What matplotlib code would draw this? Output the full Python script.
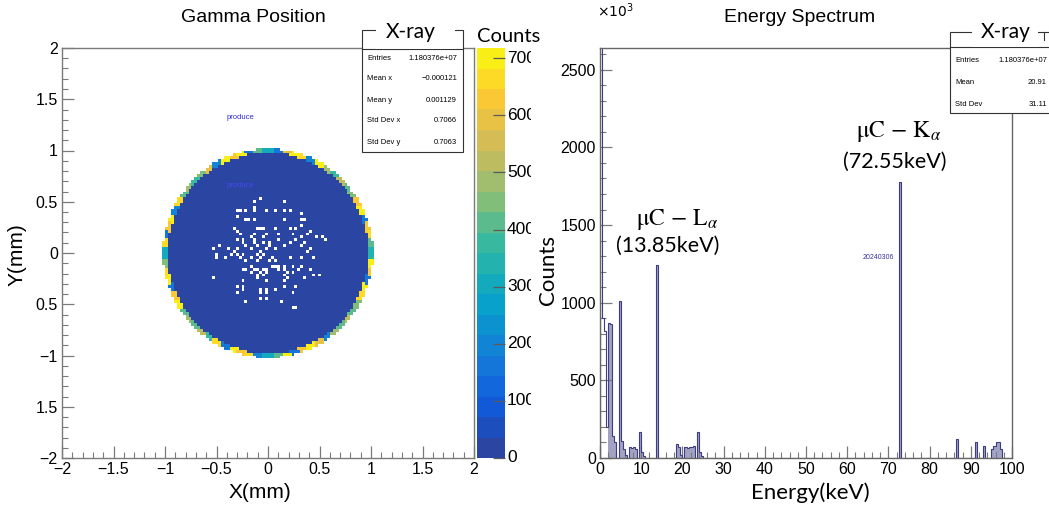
import numpy as np
import matplotlib
matplotlib.use("Agg")
import matplotlib.pyplot as plt
from matplotlib.colors import ListedColormap, BoundaryNorm, LinearSegmentedColormap
from matplotlib.patches import Rectangle
from matplotlib.lines import Line2D
from matplotlib.transforms import Bbox, TransformedBbox, blended_transform_factory
from matplotlib.ticker import MultipleLocator, FixedLocator, FixedFormatter

# ------------------------------------------------------------------ data
# 2D "Gamma Position" histogram (mm)
pos_range = (-2.0, 2.0)
pos_nbins = 140
disk_radius_mm = 1.02
rim_width_mm = 0.045
interior_count = 20
# rim bin contents, every 5 degrees starting at +x going counter-clockwise
rim_counts = [330, 420, 680, 620, 150, 700, 640, 450, 400, 520, 380, 470,
              690, 180, 650, 710, 600, 160, 300, 420, 170, 690, 640, 700,
              200, 610, 460, 380, 500, 420, 670, 190, 700, 630, 150, 680,
              320, 440, 650, 700, 160, 620, 690, 400, 480, 430, 510, 390,
              650, 170, 700, 620, 680, 200, 310, 430, 690, 150, 640, 700,
              610, 180, 470, 410, 520, 400, 450, 660, 700, 170, 640, 690]
# empty (white) bins inside the disk, by row
empty_rows_y = [0.54, 0.51, 0.45, 0.41, 0.38, 0.35, 0.32, 0.28, 0.25, 0.22,
                0.19, 0.16, 0.13, 0.09, 0.06, 0.04, 0.01, -0.02, -0.05, -0.08,
                -0.12, -0.15, -0.18, -0.21, -0.25, -0.28, -0.33, -0.36, -0.39,
                -0.43, -0.48, -0.52, -0.54]
empty_rows_x = [
    [-0.06],
    [-0.14, 0.17],
    [-0.14],
    [-0.30, -0.27, -0.21, -0.13, 0.00, 0.08, 0.17, 0.20],
    [0.33],
    [-0.30],
    [-0.22, -0.19, -0.13, 0.17, 0.34, 0.36],
    [0.33],
    [-0.34, -0.11, -0.08, -0.05, 0.07, 0.20, 0.28],
    [-0.29, 0.42],
    [-0.27, -0.14, 0.00, 0.10, 0.25, 0.38],
    [-0.17, -0.05, 0.33, 0.47, 0.54],
    [-0.29, -0.24, -0.14, 0.10, 0.26, 0.57],
    [-0.24, -0.13, -0.03, 0.02, 0.20, 0.36],
    [-0.47, -0.22, -0.09, 0.02, 0.17, 0.34],
    [-0.53, -0.40, -0.30, -0.17, -0.01, 0.08, 0.42],
    [-0.34, -0.08, 0.38],
    [-0.50, -0.35, -0.30, -0.24, -0.11, -0.03],
    [-0.50, -0.42, -0.27, -0.17, -0.08, 0.04, 0.21, 0.34, 0.44],
    [-0.22, -0.11, 0.02, 0.08],
    [-0.17, 0.04, 0.07, 0.10, 0.17, 0.25, 0.33],
    [-0.24, -0.21, -0.13, -0.09, -0.03, 0.00, 0.10, 0.15, 0.29, 0.42],
    [-0.17, -0.08, 0.00, 0.18, 0.25],
    [-0.11, -0.03, 0.17, 0.45, 0.49],
    [-0.53, -0.09, 0.18, 0.36],
    [-0.24, 0.00, 0.17],
    [-0.30, -0.24, 0.17, 0.26],
    [-0.24, -0.08, 0.00, 0.08],
    [-0.30, -0.08, 0.00, 0.25],
    [-0.08, 0.00],
    [-0.21, 0.13],
    [0.25],
    [0.28],
]
z_max = 718
n_contours = 20
cbar_ticks = [0, 100, 200, 300, 400, 500, 600, 700]
pos_xtick_labels = ["\u22122", "\u22121.5", "\u22121", "\u22120.5", "0", "0.5", "1", "1.5", "2"]
pos_ytick_labels = ["\u22122", "1.5", "\u22121", "0.5", "0", "0.5", "1", "1.5", "2"]
pos_stats_names = ["Entries", "Mean x", "Mean y", "Std Dev x", "Std Dev y"]
pos_stats_values = ["1.180376e+07", "\u22120.000121", "0.001129", "0.7066", "0.7063"]

# Energy spectrum (counts in units of 10^3), 0.5 keV bins
e_range = (0.0, 100.0)
e_nbins = 200
e_bin_low = [0.0, 0.5, 1.0, 1.5, 2.0, 2.5, 3.0, 3.5, 4.5, 5.0, 5.5, 6.0,
             7.0, 7.5, 8.0, 8.5, 9.5, 10.0, 10.5, 13.5,
             18.5, 19.0, 19.5, 20.5, 21.0, 21.5, 22.0, 22.5, 23.5, 24.0, 24.5,
             72.5, 86.5, 91.0, 93.0, 95.0, 95.5, 96.0, 96.5, 97.0]
e_counts = [3000, 900, 820, 200, 870, 860, 140, 100, 1010, 110, 60, 20,
            70, 65, 70, 60, 170, 40, 15, 1245,
            90, 70, 20, 70, 65, 70, 70, 80, 170, 40, 15,
            1780, 125, 100, 75, 60, 80, 100, 105, 60]
e_fill_from = 2.0   # the lowest bins appear unfilled in the original
e_ymax = 2640
e_stats_names = ["Entries", "Mean", "Std Dev"]
e_stats_values = ["1.180376e+07", "20.91", "31.11"]

# ------------------------------------------------------------------ figure
W, H = 1049, 512
fig = plt.figure(figsize=(W / 100, H / 100), dpi=100)
fig.patch.set_facecolor("white")

def fx(x):
    return x / W

def fy(y):
    return 1 - y / H

def px_axes(x0, y0, x1, y1):
    return fig.add_axes([fx(x0), fy(y1), (x1 - x0) / W, (y1 - y0) / H])

HELV = "Liberation Sans"
CAL = "Lato"
frame_col = "#7a7a7a"

# ROOT kBird-like palette with 20 contour bands
bird = [(0.17, 0.25, 0.62), (0.0592, 0.3599, 0.8684), (0.0780, 0.5041, 0.8385),
        (0.0232, 0.6419, 0.7914), (0.1802, 0.7178, 0.6425), (0.5301, 0.7492, 0.4662),
        (0.8186, 0.7328, 0.3499), (0.9956, 0.7862, 0.1968), (0.9764, 0.9832, 0.0539)]
bird_cmap = LinearSegmentedColormap.from_list("bird", bird)
band_cols = bird_cmap((np.arange(n_contours) + 0.3) / n_contours)
band_cols[0] = (0.17, 0.27, 0.64, 1.0)
cmap = ListedColormap(band_cols)
levels = np.linspace(0, z_max, n_contours + 1)
norm = BoundaryNorm(levels, cmap.N)

# ---------------------------------------------------------- left panel
ax1 = px_axes(62, 48, 474, 458)
edges = np.linspace(pos_range[0], pos_range[1], pos_nbins + 1)
cent = 0.5 * (edges[:-1] + edges[1:])
XX, YY = np.meshgrid(cent, cent)
RR = np.hypot(XX, YY)
inside = RR <= disk_radius_mm
Z = np.where(inside, float(interior_count), 0.0)
nb = (np.roll(inside, 1, 0) & np.roll(inside, -1, 0) &
      np.roll(inside, 1, 1) & np.roll(inside, -1, 1))
rim = inside & (~nb | (RR > disk_radius_mm - rim_width_mm))
ang = np.degrees(np.arctan2(YY, XX)) % 360
aidx = (((ang + 2.5) // 5) % len(rim_counts)).astype(int)
Z[rim] = np.array(rim_counts, dtype=float)[aidx[rim]]
for yv, xs in zip(empty_rows_y, empty_rows_x):
    iy = np.searchsorted(edges, yv) - 1
    for xv in xs:
        ix = np.searchsorted(edges, xv) - 1
        Z[iy, ix] = 0.0
Zm = np.ma.masked_equal(Z, 0.0)
mesh = ax1.pcolormesh(edges, edges, Zm, cmap=cmap, norm=norm, shading="flat")
ax1.set_xlim(-2, 2)
ax1.set_ylim(-2, 2)
ax1.xaxis.set_major_locator(FixedLocator(np.arange(-2, 2.01, 0.5)))
ax1.xaxis.set_major_formatter(FixedFormatter(pos_xtick_labels))
ax1.yaxis.set_major_locator(FixedLocator(np.arange(-2, 2.01, 0.5)))
ax1.yaxis.set_major_formatter(FixedFormatter(pos_ytick_labels))
ax1.xaxis.set_minor_locator(MultipleLocator(0.1))
ax1.yaxis.set_minor_locator(MultipleLocator(0.1))


def style_axes(ax):
    for s in ax.spines.values():
        s.set_color(frame_col)
        s.set_linewidth(1.0)
    ax.tick_params(which="major", direction="in", length=8.5, width=0.9,
                   color=frame_col, labelsize=11.5, pad=3)
    ax.tick_params(which="minor", direction="in", length=4.2, width=0.8,
                   color=frame_col)
    for lab in ax.get_xticklabels() + ax.get_yticklabels():
        lab.set_fontfamily(HELV)

style_axes(ax1)

# colorbar
cax = px_axes(477, 48, 505, 458)
cb = fig.colorbar(mesh, cax=cax, ticks=cbar_ticks)
cb.outline.set_visible(False)
cax.tick_params(axis="y", which="both", direction="in", length=9, width=0.9,
                color="#5a5a5a", right=True, left=False, labelright=False,
                labelleft=False)
cax.minorticks_off()
clip = TransformedBbox(Bbox.from_extents(0, 0, fx(530.5), 1), fig.transFigure)
btr = blended_transform_factory(fig.transFigure, cax.transData)
for t in cbar_ticks:
    txt = fig.text(fx(507), t, str(t), transform=btr, ha="left", va="center",
                   fontsize=12.5, family=HELV)
    txt.set_clip_box(clip)
    txt.set_clip_on(True)
fig.text(fx(509), fy(36), "Counts", ha="center", va="center",
         fontsize=14.5, family=CAL)

# texts in the left panel
ax1.text(-0.40, 1.32, "produce", color="#2b2bd8", fontsize=5.5, family=HELV,
         ha="left", va="center")
ax1.text(-0.40, 0.66, "produce", color="#4848f0", fontsize=5.5, family=HELV,
         ha="left", va="center")
fig.text(fx(253), fy(18), "Gamma Position", ha="center", va="center",
         fontsize=14, family=HELV)
fig.text(fx(260), fy(493), "X(mm)", ha="center", va="center", fontsize=15,
         family=HELV)
fig.text(fx(17), fy(255), "Y(mm)", ha="center", va="center", fontsize=15,
         family=HELV, rotation=90)

# ---------------------------------------------------------- right panel
ax2 = px_axes(600, 48, 1012, 458)
e_edges = np.linspace(e_range[0], e_range[1], e_nbins + 1)
e_hist = np.zeros(e_nbins)
for lo, c in zip(e_bin_low, e_counts):
    e_hist[int(round((lo - e_range[0]) / (e_edges[1] - e_edges[0])))] = c
e_fill = np.where(e_edges[:-1] >= e_fill_from, e_hist, 0.0)
ax2.stairs(e_fill, e_edges, fill=True, color="#a2a3c2", zorder=1)
ax2.stairs(e_hist, e_edges, fill=False, color="#3d3d85", linewidth=0.8,
           zorder=2)
ax2.set_xlim(*e_range)
ax2.set_ylim(0, e_ymax)
ax2.xaxis.set_major_locator(MultipleLocator(10))
ax2.xaxis.set_minor_locator(MultipleLocator(2))
ax2.yaxis.set_major_locator(MultipleLocator(500))
ax2.yaxis.set_minor_locator(MultipleLocator(100))
style_axes(ax2)
for s in ax2.spines.values():
    s.set_color("#666666")
    s.set_zorder(3)

fig.text(fx(597), fy(11), r"$\times10^{3}$", ha="left", va="center",
         fontsize=10, family=HELV, math_fontfamily="dejavusans")
fig.text(fx(800), fy(18), "Energy Spectrum", ha="center", va="center",
         fontsize=14, family=HELV)
fig.text(fx(810), fy(493), "Energy(keV)", ha="center", va="center",
         fontsize=16, family=CAL)
fig.text(fx(548), fy(270), "Counts", ha="center", va="center", fontsize=16,
         family=CAL, rotation=90)
ax2.text(0.676, 0.49, "20240306", transform=ax2.transAxes, fontsize=5,
         color="#333399", family=HELV, ha="center", va="center")

ann_kw = dict(ha="center", va="center", math_fontfamily="stix")
fig.text(fx(677), fy(219), r"$\mathrm{\mu C}\,-\,\mathrm{L}_{\alpha}$",
         fontsize=17, **ann_kw)
fig.text(fx(668), fy(246), "(13.85keV)", ha="center", va="center",
         fontsize=15.5, family=CAL)
fig.text(fx(899), fy(132), r"$\mathrm{\mu C}\,-\,\mathrm{K}_{\alpha}$",
         fontsize=17, **ann_kw)
fig.text(fx(895), fy(162), "(72.55keV)", ha="center", va="center",
         fontsize=15.5, family=CAL)

# ---------------------------------------------------------- stats boxes
def add_rect(x0, y0, x1, y1, fc="white", ec="#333333", lw=0.8, z=10):
    r = Rectangle((fx(x0), fy(y1)), (x1 - x0) / W, (y1 - y0) / H,
                  transform=fig.transFigure, facecolor=fc, edgecolor=ec,
                  linewidth=lw, zorder=z)
    fig.add_artist(r)

def add_line(x0, y0, x1, y1, z=11):
    fig.add_artist(Line2D([fx(x0), fx(x1)], [fy(y0), fy(y1)],
                          transform=fig.transFigure, color="#333333",
                          linewidth=0.8, zorder=z))

# left stats
add_rect(362, 30, 463, 152)
add_line(362, 49, 463, 49)
add_rect(376, 14, 455, 48.5, ec="none", z=12)
fig.text(fx(411), fy(32), "X-ray", ha="center", va="center", fontsize=15,
         family=CAL, zorder=13)
for i, (n, v) in enumerate(zip(pos_stats_names, pos_stats_values)):
    yy = 58 + 21 * i
    fig.text(fx(367), fy(yy), n, ha="left", va="center", fontsize=5.5,
             family=HELV, zorder=13)
    fig.text(fx(457), fy(yy), v, ha="right", va="center", fontsize=5.5,
             family=HELV, zorder=13)

# right stats
add_rect(950, 32, 1070, 113)
add_line(950, 47, 1070, 47)
add_rect(972, 14, 1038, 46.5, ec="none", z=12)
add_line(1044, 32, 1044, 40, z=13)
fig.text(fx(1006), fy(32), "X-ray", ha="center", va="center", fontsize=15,
         family=CAL, zorder=13)
for i, (n, v) in enumerate(zip(e_stats_names, e_stats_values)):
    yy = 61 + 21.5 * i
    fig.text(fx(955), fy(yy), n, ha="left", va="center", fontsize=5.5,
             family=HELV, zorder=13)
    fig.text(fx(1047), fy(yy), v, ha="right", va="center", fontsize=5.5,
             family=HELV, zorder=13)

fig.savefig("out.png", dpi=100, facecolor="white")
